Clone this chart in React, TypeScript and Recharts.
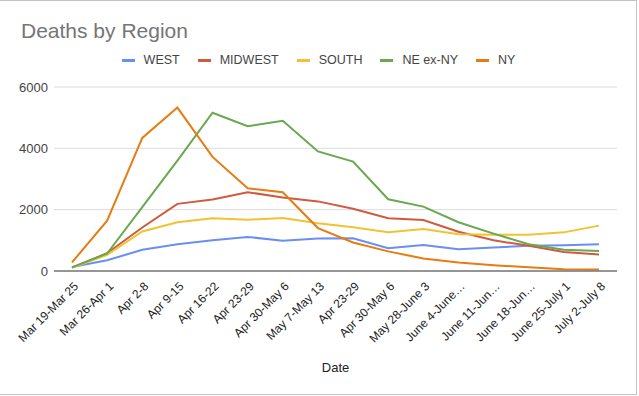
import { CartesianGrid, Legend, Line, LineChart, XAxis, YAxis } from "recharts"

const dates = [
  "Mar 19-Mar 25",
  "Mar 26-Apr 1",
  "Apr 2-8",
  "Apr 9-15",
  "Apr 16-22",
  "Apr 23-29",
  "Apr 30-May 6",
  "May 7-May 13",
  "Apr 23-29",
  "Apr 30-May 6",
  "May 28-June 3",
  "June 4-June…",
  "June 11-Jun…",
  "June 18-Jun…",
  "June 25-July 1",
  "July 2-July 8",
]

const west = [130, 350, 690, 870, 1000, 1110, 990, 1060, 1070, 740, 850, 710, 765, 820, 840, 870]
const midwest = [110, 580, 1420, 2190, 2330, 2570, 2400, 2270, 2030, 1720, 1660, 1280, 1000, 820, 620, 540]
const south = [100, 530, 1290, 1590, 1720, 1670, 1730, 1560, 1430, 1260, 1370, 1200, 1180, 1180, 1260, 1480]
const neExNy = [120, 570, 2080, 3600, 5160, 4720, 4900, 3900, 3570, 2340, 2100, 1590, 1220, 870, 690, 650]
const ny = [280, 1640, 4340, 5330, 3720, 2700, 2570, 1400, 930, 640, 410, 280, 190, 120, 60, 50]

const yTicks = [0, 2000, 4000, 6000]

const series = [
  { key: "west", name: "WEST", color: "#6a8ff2" },
  { key: "midwest", name: "MIDWEST", color: "#cf5a3e" },
  { key: "south", name: "SOUTH", color: "#f1c232" },
  { key: "neExNy", name: "NE ex-NY", color: "#6aa84f" },
  { key: "ny", name: "NY", color: "#e67c13" },
]

const data = dates.map((date, i) => ({
  date,
  west: west[i],
  midwest: midwest[i],
  south: south[i],
  neExNy: neExNy[i],
  ny: ny[i],
}))

const font = "Arial, 'Liberation Sans', sans-serif"

function SlantTick({ x, y, payload }: any) {
  const tx = x + 7
  const ty = y + 8
  return (
    <text
      x={tx}
      y={ty}
      transform={`rotate(-45 ${tx} ${ty})`}
      textAnchor="end"
      fontSize={12}
      fill="#222"
      fontFamily={font}
    >
      {payload.value}
    </text>
  )
}

function LegendRow() {
  return (
    <div
      style={{
        display: "flex",
        justifyContent: "center",
        alignItems: "center",
        gap: 18,
        height: 20,
        width: 637,
        fontFamily: font,
        fontSize: 12.5,
        color: "#444",
      }}
    >
      {series.map((s) => (
        <div key={s.key} style={{ display: "flex", alignItems: "center" }}>
          <span style={{ width: 13, height: 3, background: s.color, marginRight: 9 }} />
          <span>{s.name}</span>
        </div>
      ))}
    </div>
  )
}

export default function App() {
  return (
    <div style={{ position: "absolute", left: 0, top: 0, width: 639, height: 396, background: "#fff", fontFamily: font }}>
      <div
        style={{
          position: "absolute",
          left: 21,
          top: 20,
          fontSize: 21,
          lineHeight: "21px",
          color: "#757575",
          whiteSpace: "nowrap",
        }}
      >
        Deaths by Region
      </div>
      <LineChart width={637} height={395} data={data} margin={{ top: 67, right: 20, bottom: 19, left: 0 }}>
        <CartesianGrid vertical={false} stroke="#dcdcdc" />
        <XAxis
          dataKey="date"
          interval={0}
          padding={{ left: 18, right: 18 }}
          tickLine={false}
          axisLine={{ stroke: "#777", strokeWidth: 1.5 }}
          tick={<SlantTick />}
          height={105}
          label={{ value: "Date", position: "insideBottom", offset: 4, fill: "#222", fontSize: 13, fontFamily: font }}
        />
        <YAxis
          width={54}
          domain={[0, 6000]}
          ticks={yTicks}
          axisLine={false}
          tickLine={false}
          tickSize={4}
          tick={{ fill: "#444", fontSize: 13, fontFamily: font }}
        />
        <Legend verticalAlign="top" wrapperStyle={{ top: 50, left: 0 }} content={() => <LegendRow />} />
        {series.map((s) => (
          <Line
            key={s.key}
            type="linear"
            dataKey={s.key}
            name={s.name}
            stroke={s.color}
            strokeWidth={2}
            dot={false}
            isAnimationActive={false}
          />
        ))}
      </LineChart>
      <div
        style={{
          position: "absolute",
          left: -1,
          top: 0,
          width: 638,
          height: 395,
          border: "1px solid #c4c4c4",
          boxSizing: "border-box",
          pointerEvents: "none",
        }}
      />
    </div>
  )
}
